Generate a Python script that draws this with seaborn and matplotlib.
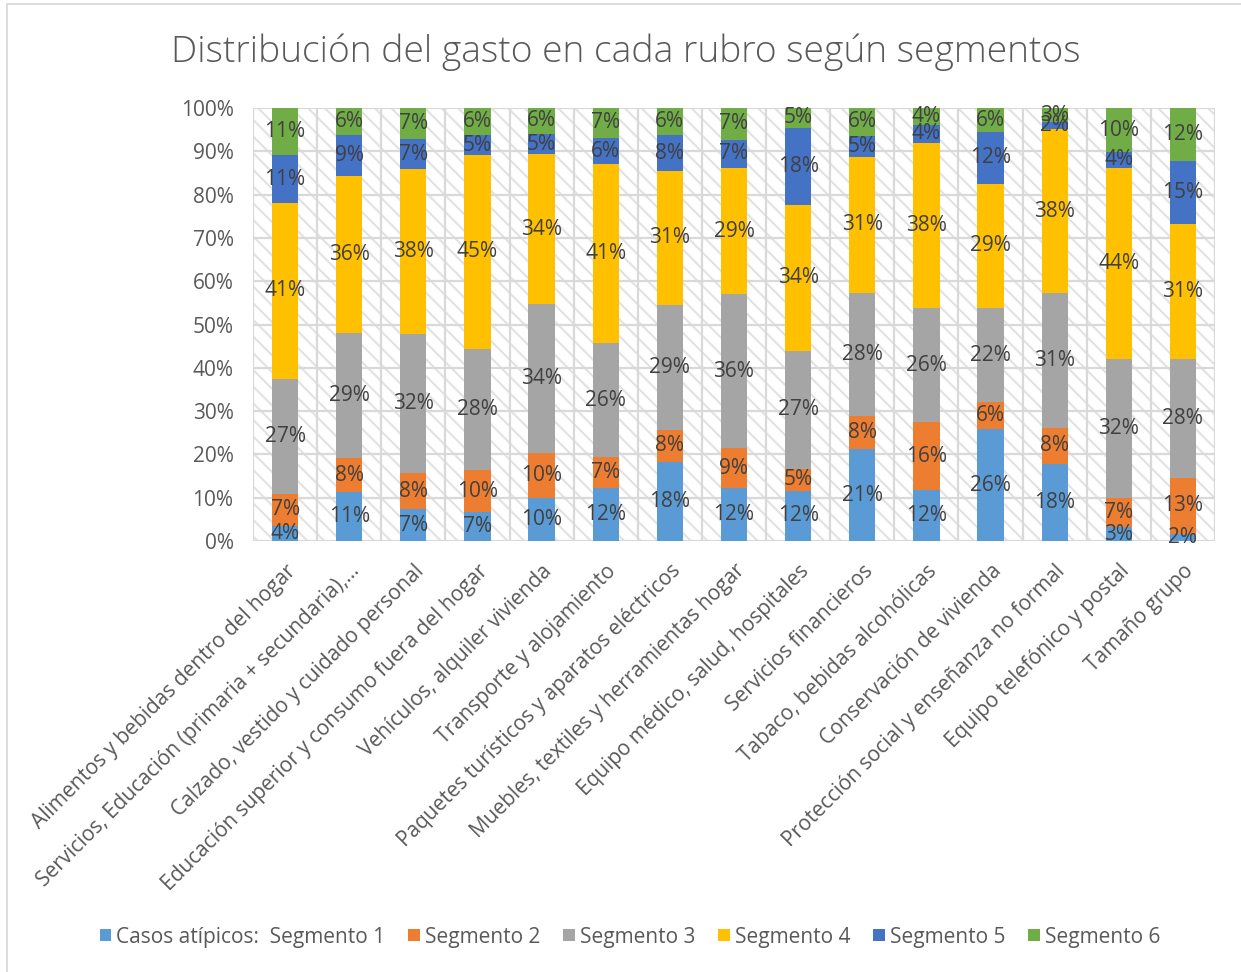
import numpy as np
import pandas as pd
import matplotlib
matplotlib.use("Agg")
import matplotlib.pyplot as plt
from matplotlib.patches import Rectangle, Patch
from matplotlib import font_manager
import seaborn as sns

# ---------------- data ----------------
categories = [
    "Alimentos y bebidas dentro del hogar",
    "Servicios, Educación (primaria + secundaria),…",
    "Calzado, vestido y cuidado personal",
    "Educación superior y consumo fuera del hogar",
    "Vehículos, alquiler vivienda",
    "Transporte y alojamiento",
    "Paquetes turísticos y aparatos eléctricos",
    "Muebles, textiles y herramientas hogar",
    "Equipo médico, salud, hospitales",
    "Servicios financieros",
    "Tabaco, bebidas alcohólicas",
    "Conservación de vivienda",
    "Protección social y enseñanza no formal",
    "Equipo telefónico y postal",
    "Tamaño grupo",
]
series_names = ["Casos atípicos:  Segmento 1", "Segmento 2", "Segmento 3",
                "Segmento 4", "Segmento 5", "Segmento 6"]
seg1 = [3.6, 11.3, 7.3, 6.6, 9.9, 12.2, 18.2, 12.2, 11.6, 21.2, 11.8, 25.8, 17.8, 3.2, 1.7]
seg2 = [7.3, 7.8, 8.3, 9.8, 10.3, 7.1, 7.6, 9.3, 5.1, 7.7, 15.6, 6.3, 8.3, 6.8, 12.8]
seg3 = [26.8, 28.9, 31.9, 28.0, 34.4, 26.4, 28.9, 35.6, 27.3, 28.3, 26.4, 21.7, 31.2, 32.1, 27.6]
seg4 = [40.9, 36.4, 38.0, 44.7, 34.5, 41.2, 30.9, 29.2, 33.6, 31.3, 38.1, 28.8, 37.8, 44.2, 31.0]
seg5 = [11.0, 9.4, 6.9, 4.7, 4.8, 6.1, 8.3, 6.6, 17.9, 4.9, 4.2, 11.9, 1.6, 3.6, 14.7]
seg6 = [11.0, 6.2, 7.2, 6.2, 5.9, 6.9, 6.3, 7.3, 4.6, 6.4, 3.9, 5.6, 3.3, 10.2, 12.2]
y_ticks = [0, 10, 20, 30, 40, 50, 60, 70, 80, 90, 100]
title = "Distribución del gasto en cada rubro según segmentos"

colors = ["#5B9BD5", "#ED7D31", "#A5A5A5", "#FFC000", "#4472C4", "#70AD47"]

# ---------------- style ----------------
sns.set_theme(style="white")
avail = {f.name for f in font_manager.fontManager.ttflist}
base_font = "Open Sans" if "Open Sans" in avail else "DejaVu Sans"
plt.rcParams["font.family"] = [base_font, "DejaVu Sans"]
plt.rcParams["hatch.linewidth"] = 1.5

TXT = "#595959"
LBL = "#404040"
GRID = "#D9D9D9"

W, H = 1241, 972
fig = plt.figure(figsize=(W / 100, H / 100), dpi=100)
fig.patch.set_facecolor("white")

# outer chart border
fig.patches.append(Rectangle((7 / W, -0.01), 1.0, 1 - 4 / H + 0.01, transform=fig.transFigure,
                             fill=False, edgecolor=GRID, linewidth=1.3, zorder=0))

L, R, T, B = 253, 1215, 108, 541
ax = fig.add_axes([L / W, 1 - B / H, (R - L) / W, (B - T) / H])
ax.set_facecolor("white")

# hatched background
ax.add_patch(Rectangle((0, 0), 1, 1, transform=ax.transAxes, facecolor="none",
                       edgecolor="#E2E2E2", hatch="\\\\", linewidth=0, zorder=0))

# ---------------- bars ----------------
raw = np.array([seg1, seg2, seg3, seg4, seg5, seg6], dtype=float)
shares = raw / raw.sum(axis=0) * 100
cum = np.cumsum(shares, axis=0)

for k in range(5, -1, -1):
    df = pd.DataFrame({"cat": categories, "val": cum[k]})
    sns.barplot(data=df, x="cat", y="val", order=categories, color=colors[k],
                width=0.41, saturation=1, ax=ax, zorder=3 + (5 - k) * 0.01,
                linewidth=0)

# data labels
for k in range(6):
    for i in range(len(categories)):
        yc = cum[k][i] - shares[k][i] / 2
        ax.text(i, yc, f"{int(round(raw[k][i]))}%", ha="center", va="center",
                fontsize=15, color=LBL, zorder=10)

# ---------------- axes ----------------
ax.set_xlim(-0.5, len(categories) - 0.5)
ax.set_ylim(0, 100)
ax.set_yticks(y_ticks)
ax.set_yticklabels([f"{t}%" for t in y_ticks], fontsize=15, color=TXT)
ax.set_xticks(range(len(categories)))
ax.set_xticklabels(categories, rotation=45, ha="right", va="top",
                   rotation_mode="anchor", fontsize=15, color=TXT)
ax.tick_params(axis="both", which="both", length=0)
ax.tick_params(axis="x", which="major", pad=14)
ax.tick_params(axis="y", pad=14)
ax.set_xlabel("")
ax.set_ylabel("")
ax.grid(False)
for t in y_ticks:
    ax.axhline(t, color=GRID, linewidth=1.6, zorder=1)
for xb in np.arange(-0.5, len(categories), 1.0):
    ax.axvline(xb, color=GRID, linewidth=1.6, zorder=1)
for s in ax.spines.values():
    s.set_visible(False)

# title
fig.text(626 / W, 1 - 52 / H, title, ha="center", va="center", fontsize=26.8,
         color=TXT, fontweight="light")

# legend
handles = [Patch(facecolor=c, edgecolor="none") for c in colors]
fig.legend(handles, series_names, loc="center", bbox_to_anchor=(630 / W, 1 - 937 / H),
           ncol=6, frameon=False, fontsize=15, handlelength=0.55, handleheight=0.55,
           handletextpad=0.25, columnspacing=1.1, labelcolor=TXT)

fig.savefig("out.png", dpi=100, facecolor="white")
